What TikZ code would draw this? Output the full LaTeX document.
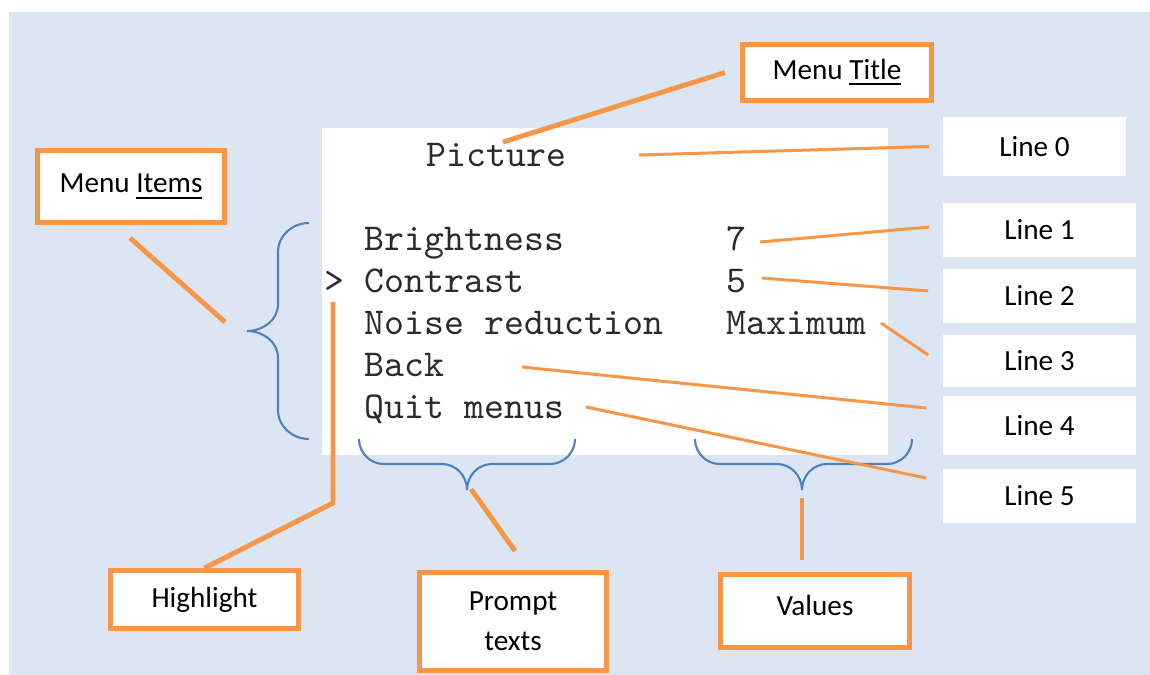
\documentclass[tikz,border=0pt]{standalone}
\usepackage{fontspec}
\setmainfont{Carlito}
\definecolor{bgblue}{HTML}{DCE6F2}
\definecolor{calloutorange}{HTML}{F79646}
\definecolor{braceblue}{HTML}{4F81BD}
\definecolor{screentext}{HTML}{2B2B2B}
\tikzset{
  callout/.style={draw=calloutorange, line width=1.4pt, fill=white, align=center, inner sep=0pt, font=\fontsize{8.3}{11.4}\selectfont},
  linebox/.style={fill=white, inner sep=0pt, font=\fontsize{8.3}{10}\selectfont},
  screen/.style={anchor=base west, inner sep=0pt, text=screentext, font=\ttfamily\fontsize{10.8}{12}\selectfont},
  thickline/.style={draw=calloutorange, line width=1.4pt},
  thinline/.style={draw=calloutorange, line width=0.85pt},
  brace/.style={draw=braceblue, line width=0.6pt}
}
\begin{document}
\begin{tikzpicture}[x=0.01cm, y=-0.01cm]
\useasboundingbox (0,0) rectangle (1150,675);
\fill[bgblue] (9,12) rectangle (1150,675);
\fill[white] (322,128) rectangle (888,455);

% screen
\node[screen] (Picture) at (426,166) {Picture};
\node[screen] (Brightness) at (364,250) {Brightness};
\node[screen] (Brightness value) at (726,250) {7};
\node[screen] (Cursor) at (324,292) {>};
\node[screen] (Contrast) at (364,292) {Contrast};
\node[screen] (Contrast value) at (726,292) {5};
\node[screen] (Noise reduction) at (364,334) {Noise reduction};
\node[screen] (Noise value) at (726,334) {Maximum};
\node[screen] (Back) at (364,376) {Back};
\node[screen] (Quit menus) at (364,418) {Quit menus};

% callouts
\node[callout, minimum width=1.89cm, minimum height=0.56cm] (Menu Title) at (837,72.5) {Menu \underline{Title}};
\node[callout, minimum width=1.87cm, minimum height=0.72cm, text depth=0.06cm] (Menu Items) at (131,186.5) {Menu \underline{Items}};
\node[callout, minimum width=1.88cm, minimum height=0.58cm] (Highlight) at (204.5,599.5) {Highlight};
\node[callout, minimum width=1.87cm, minimum height=0.98cm] (Prompt texts) at (513,621.5) {Prompt\\texts};
\node[callout, minimum width=1.89cm, minimum height=0.73cm, text depth=0.12cm] (Values) at (815,611) {Values};

\node[linebox, minimum width=1.83cm, minimum height=0.59cm] (Line 0) at (1034.5,146.5) {Line 0};
\foreach \n/\y/\h in {1/230/0.54, 2/296/0.54, 3/361/0.52, 4/425.5/0.59, 5/496/0.54}
  \node[linebox, minimum width=1.93cm, minimum height=\h cm] (Line \n) at (1039.5,\y) {Line \n};

% braces
\coordinate (Items tip) at (247,331);
\coordinate (Prompt tip) at (467,490);
\coordinate (Values tip) at (802,490);
\draw[brace] (309,223) to[out=180,in=90] (278,252) -- (278,304) to[out=-90,in=0] (Items tip)
  to[out=0,in=90] (278,358) -- (278,410) to[out=-90,in=180] (309,439);
\draw[brace] (359,439) to[out=-90,in=180] (384,464) -- (442,464) to[out=0,in=90] (Prompt tip)
  to[out=90,in=180] (492,464) -- (550,464) to[out=0,in=-90] (575,439);
\draw[brace] (695,439) to[out=-90,in=180] (720,464) -- (777,464) to[out=0,in=90] (Values tip)
  to[out=90,in=180] (827,464) -- (887,464) to[out=0,in=-90] (912,439);

% pointers
\coordinate (Title foot) at (503,142);
\coordinate (Items end) at (225,322);
\coordinate (Cursor top) at (333,302);
\coordinate (Cursor bend) at (333,503);
\coordinate (Line 0 foot) at (639,155);
\coordinate (Line 1 foot) at (760,242);
\coordinate (Line 2 foot) at (762,278);
\coordinate (Line 3 foot) at (881,323);
\coordinate (Line 4 foot) at (522,367);
\coordinate (Line 5 foot) at (586,407);

\draw[thickline] (Title foot) -- ([shift={(-15,0)}]Menu Title.west);
\draw[thickline] ([shift={(-1,13)}]Menu Items.south) -- (Items end);
\draw[thickline] (Highlight.north) -- (Cursor bend) -- (Cursor top);
\draw[thickline] ([shift={(4,-1)}]Prompt tip) -- ([shift={(2,-19)}]Prompt texts.north);
\draw[thickline, shorten <=0.08cm, shorten >=0.12cm] (Values tip) -- (Values tip |- Values.north);

\draw[thinline] (Line 0 foot) -- ([shift={(-13,0)}]Line 0.west);
\draw[thinline] (Line 1 foot) -- ([shift={(-13,-3)}]Line 1.west);
\draw[thinline] (Line 2 foot) -- ([shift={(-14,-5)}]Line 2.west);
\draw[thinline] (Line 3 foot) -- ([shift={(-14,-6)}]Line 3.west);
\draw[thinline] (Line 4 foot) -- ([shift={(-16,-17.5)}]Line 4.west);
\draw[thinline] (Line 5 foot) -- ([shift={(-16,-18)}]Line 5.west);
\end{tikzpicture}
\end{document}
